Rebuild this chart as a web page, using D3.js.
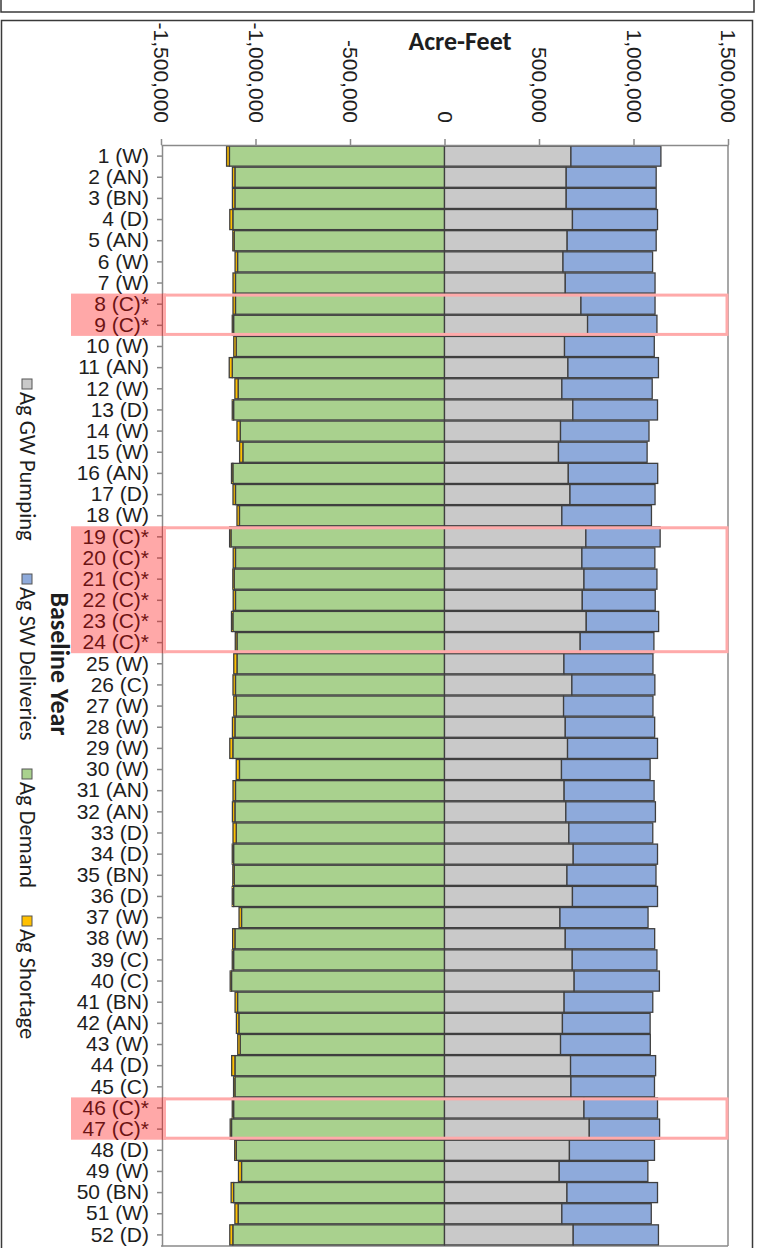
<!DOCTYPE html>
<html>
<head>
<meta charset="utf-8">
<script src="https://cdn.jsdelivr.net/npm/d3@7/dist/d3.min.js"></script>
<style>
  html, body { margin: 0; padding: 0; background: #fff; }
  svg { display: block; font-family: Carlito, Calibri, Lato, sans-serif; }
</style>
</head>
<body>
<svg id="chart" width="759" height="1248"></svg>
<script>
// Baseline years with water-year type; "*" marks the critical years called out in red
const categories = [
  "1 (W)", "2 (AN)", "3 (BN)", "4 (D)", "5 (AN)", "6 (W)", "7 (W)", "8 (C)*", "9 (C)*", "10 (W)",
  "11 (AN)", "12 (W)", "13 (D)", "14 (W)", "15 (W)", "16 (AN)", "17 (D)", "18 (W)", "19 (C)*", "20 (C)*",
  "21 (C)*", "22 (C)*", "23 (C)*", "24 (C)*", "25 (W)", "26 (C)", "27 (W)", "28 (W)", "29 (W)", "30 (W)",
  "31 (AN)", "32 (AN)", "33 (D)", "34 (D)", "35 (BN)", "36 (D)", "37 (W)", "38 (W)", "39 (C)", "40 (C)",
  "41 (BN)", "42 (AN)", "43 (W)", "44 (D)", "45 (C)", "46 (C)*", "47 (C)*", "48 (D)", "49 (W)", "50 (BN)",
  "51 (W)", "52 (D)"
];

// Acre-feet per baseline year
const agGWPumping = [
  669000, 644000, 644000, 677000, 649000, 627000, 639000, 722000, 757000, 635000,
  653000, 621000, 679000, 614000, 603000, 655000, 664000, 621000, 748000, 727000,
  738000, 729000, 750000, 718000, 632000, 674000, 630000, 639000, 651000, 619000,
  633000, 642000, 658000, 681000, 648000, 677000, 611000, 639000, 676000, 686000,
  633000, 624000, 614000, 667000, 669000, 738000, 766000, 661000, 607000, 648000,
  621000, 681000
];
const agSWDeliveries = [
  476000, 476000, 476000, 450000, 471000, 474000, 475000, 392000, 367000, 475000,
  479000, 478000, 448000, 468000, 469000, 473000, 450000, 474000, 393000, 386000,
  386000, 386000, 383000, 390000, 471000, 439000, 473000, 473000, 476000, 469000,
  476000, 474000, 444000, 446000, 471000, 450000, 466000, 473000, 448000, 451000,
  469000, 464000, 475000, 450000, 442000, 389000, 372000, 450000, 469000, 479000,
  473000, 451000
];
const agDemand = [
  1138000, 1109000, 1109000, 1120000, 1113000, 1095000, 1106000, 1106000, 1116000, 1102000,
  1123000, 1092000, 1116000, 1081000, 1067000, 1120000, 1106000, 1085000, 1130000, 1106000,
  1113000, 1106000, 1120000, 1098000, 1098000, 1106000, 1102000, 1109000, 1120000, 1085000,
  1106000, 1109000, 1102000, 1116000, 1113000, 1116000, 1074000, 1109000, 1116000, 1127000,
  1095000, 1088000, 1081000, 1109000, 1109000, 1116000, 1127000, 1102000, 1074000, 1116000,
  1092000, 1120000
];
const agShortage = [
  15000, 13000, 13000, 16000, 7000, 13000, 13000, 13000, 7000, 13000,
  16000, 17000, 7000, 17000, 17000, 7000, 13000, 13000, 7000, 12000,
  7000, 12000, 7000, 9000, 17000, 13000, 13000, 13000, 16000, 17000,
  13000, 13000, 17000, 7000, 7000, 7000, 13000, 12000, 7000, 7000,
  13000, 13000, 13000, 17000, 7000, 7000, 7000, 8000, 16000, 13000,
  17000, 16000
];

const xTicks = [-1500000, -1000000, -500000, 0, 500000, 1000000, 1500000];
const seriesNames = ["Ag GW Pumping", "Ag SW Deliveries", "Ag Demand", "Ag Shortage"];
const seriesColors = ["#c9c9c9", "#8eaadb", "#a9d18e", "#ffc000"];
const xTitle = "Acre-Feet";
const yTitle = "Baseline Year";

const svg = d3.select("#chart");
const plot = { left: 161, right: 728, top: 145, bottom: 1246 };
const barStroke = "#3f3f3f";
const textColor = "#1e1e1e";

const fmt = d3.formatLocale({ decimal: ".", thousands: ",", grouping: [3], currency: ["", ""], minus: "-" }).format(",");

const x = d3.scaleLinear().domain([-1500000, 1500000]).range([plot.left, plot.right]);
const y = d3.scaleBand().domain(categories).range([plot.top, plot.bottom]).paddingInner(0.05).paddingOuter(0.05);

// Outer frames
svg.append("rect").attr("x", 1).attr("y", -20).attr("width", 753).attr("height", 32)
  .attr("fill", "none").attr("stroke", "#3a3a3a").attr("stroke-width", 1.5);
svg.append("rect").attr("x", 1.5).attr("y", 20.5).attr("width", 751).attr("height", 1260)
  .attr("fill", "#fff").attr("stroke", "#3a3a3a").attr("stroke-width", 1.5);

const rows = categories.map((c, i) => ({
  cat: c, gw: agGWPumping[i], sw: agSWDeliveries[i], demand: agDemand[i], shortage: agShortage[i]
}));

// Plot frame
svg.append("line").attr("x1", plot.right).attr("x2", plot.right).attr("y1", plot.top).attr("y2", plot.bottom)
  .attr("stroke", "#8a8a8a").attr("stroke-width", 1.5);
svg.append("line").attr("x1", plot.left).attr("x2", plot.right).attr("y1", plot.bottom).attr("y2", plot.bottom)
  .attr("stroke", "#8a8a8a").attr("stroke-width", 1.5);

// Bars: demand and shortage to the left of zero, supplies to the right
const bars = svg.append("g").attr("stroke", barStroke).attr("stroke-width", 1.3);
bars.selectAll("rect.demand").data(rows).join("rect").attr("class", "demand")
  .attr("x", d => x(-d.demand)).attr("width", d => x(0) - x(-d.demand))
  .attr("y", d => y(d.cat)).attr("height", y.bandwidth()).attr("fill", seriesColors[2]);
bars.selectAll("rect.shortage").data(rows).join("rect").attr("class", "shortage")
  .attr("x", d => x(-d.demand - d.shortage)).attr("width", d => x(-d.demand) - x(-d.demand - d.shortage))
  .attr("y", d => y(d.cat)).attr("height", y.bandwidth()).attr("fill", seriesColors[3]);
bars.selectAll("rect.gw").data(rows).join("rect").attr("class", "gw")
  .attr("x", x(0)).attr("width", d => x(d.gw) - x(0))
  .attr("y", d => y(d.cat)).attr("height", y.bandwidth()).attr("fill", seriesColors[0]);
bars.selectAll("rect.sw").data(rows).join("rect").attr("class", "sw")
  .attr("x", d => x(d.gw)).attr("width", d => x(d.gw + d.sw) - x(d.gw))
  .attr("y", d => y(d.cat)).attr("height", y.bandwidth()).attr("fill", seriesColors[1]);

// Top value axis with rotated labels
const xAxis = svg.append("g").attr("transform", `translate(0,${plot.top})`)
  .call(d3.axisTop(x).tickValues(xTicks).tickSize(6).tickSizeOuter(0).tickFormat(fmt));
xAxis.select(".domain").attr("stroke", "#8a8a8a").attr("stroke-width", 1.5);
xAxis.selectAll(".tick line").attr("stroke", "#8a8a8a").attr("stroke-width", 1.5);
xAxis.selectAll(".tick text")
  .attr("fill", textColor).attr("font-size", 21)
  .attr("text-anchor", "end").attr("dy", null).attr("y", 0)
  .attr("dominant-baseline", "central")
  .attr("transform", "translate(0,-22) rotate(90)");

// Left category axis
const yAxis = svg.append("g").attr("transform", `translate(${plot.left + 1},0)`)
  .call(d3.axisLeft(y).tickSize(5).tickSizeOuter(0));
yAxis.select(".domain").attr("stroke", "#8a8a8a").attr("stroke-width", 1.5);
yAxis.selectAll(".tick line").attr("stroke", "#8a8a8a").attr("stroke-width", 1.5);
yAxis.selectAll(".tick text").attr("fill", textColor).attr("font-size", 21).attr("x", -13);

// Critical-year groups: consecutive starred categories
const groups = [];
categories.forEach((c, i) => {
  if (!c.endsWith("*")) return;
  const last = groups[groups.length - 1];
  if (last && last.end === i - 1) last.end = i; else groups.push({ start: i, end: i });
});
const hl = svg.append("g");
groups.forEach(g => {
  const top = y(categories[g.start]) - y.step() * y.paddingInner() / 2;
  const bottom = y(categories[g.end]) + y.bandwidth() + y.step() * y.paddingInner() / 2;
  hl.append("rect").attr("x", 71).attr("y", top).attr("width", 95).attr("height", bottom - top)
    .attr("fill", "rgba(255,0,0,0.34)");
  hl.append("rect").attr("x", 164.5).attr("y", top + 1.5).attr("width", x(1500000) - 1 - 164.5)
    .attr("height", bottom - top - 3)
    .attr("fill", "none").attr("stroke", "#ffaaaa").attr("stroke-width", 3);
});

// Axis titles
svg.append("text").attr("x", 460).attr("y", 50).attr("text-anchor", "middle")
  .attr("font-size", 26).attr("font-weight", "bold").attr("fill", textColor).text(xTitle);
svg.append("text").attr("transform", "translate(60,664) rotate(90)")
  .attr("text-anchor", "middle").attr("dominant-baseline", "central")
  .attr("font-size", 26).attr("font-weight", "bold").attr("fill", textColor).text(yTitle);

// Legend, laid out down the left edge
const legendStarts = [379, 574, 769, 916];
const legend = svg.append("g");
seriesNames.forEach((name, i) => {
  const g = legend.append("g").attr("transform", `translate(27,${legendStarts[i]}) rotate(90)`);
  g.append("rect").attr("x", 0).attr("y", -5).attr("width", 10).attr("height", 10)
    .attr("fill", seriesColors[i]).attr("stroke", "#555").attr("stroke-width", 1);
  g.append("text").attr("x", 13).attr("y", 0).attr("dominant-baseline", "central")
    .attr("font-size", 22.5).attr("fill", textColor).text(name);
});
</script>
</body>
</html>
